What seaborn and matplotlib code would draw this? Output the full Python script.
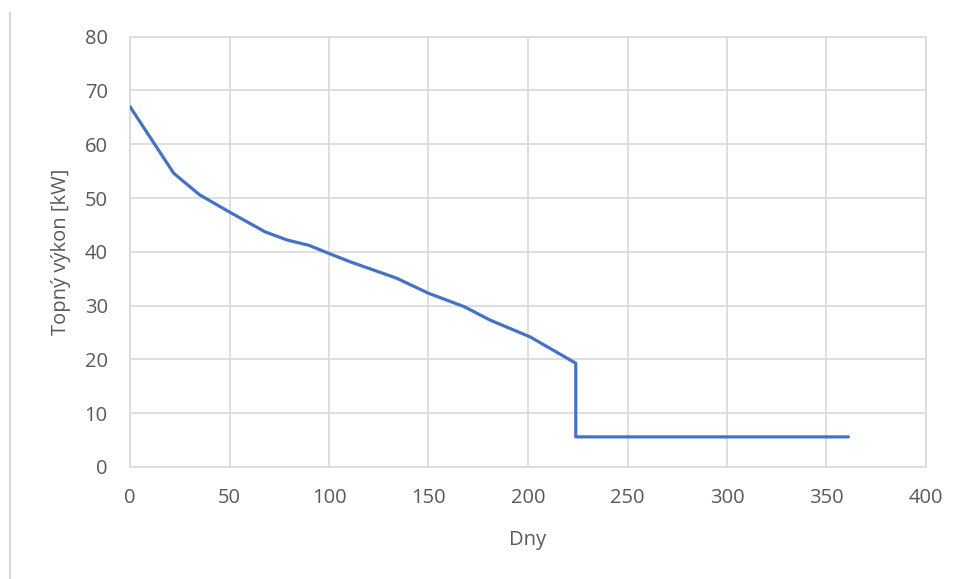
import matplotlib
matplotlib.use("Agg")
import matplotlib.pyplot as plt
from matplotlib.lines import Line2D
import seaborn as sns
import pandas as pd

# Heating load duration curve
days = [0, 22, 35, 50, 68, 79, 90, 100, 111, 134, 150, 168, 181, 201, 224, 224, 361]
power_kw = [67.0, 54.6, 50.6, 47.4, 43.7, 42.2, 41.2, 39.7, 38.1, 35.1, 32.3, 29.8, 27.3, 24.2, 19.3, 5.6, 5.6]

x_ticks = [0, 50, 100, 150, 200, 250, 300, 350, 400]
y_ticks = [0, 10, 20, 30, 40, 50, 60, 70, 80]

df = pd.DataFrame({"Dny": days, "Topný výkon [kW]": power_kw})

sns.set_theme(style="white")
plt.rcParams["font.family"] = ["Open Sans", "DejaVu Sans"]

text_color = "#595959"
grid_color = "#d9d9d9"
fs = 14.5

fig = plt.figure(figsize=(9.59, 5.79), dpi=100)
ax = fig.add_axes([130 / 959, 1 - 467 / 579, 796 / 959, (467 - 36.7) / 579])

sns.lineplot(data=df, x="Dny", y="Topný výkon [kW]", estimator=None, sort=False,
             color="#4472C4", linewidth=2.3, ax=ax, zorder=3)

ax.set_xlim(0, 400)
ax.set_ylim(0, 80)
ax.set_xticks(x_ticks)
ax.set_yticks(y_ticks)
ax.grid(True, color=grid_color, linewidth=1.2)
for s in ax.spines.values():
    s.set_color(grid_color)
    s.set_linewidth(1.2)
ax.tick_params(axis="x", length=0, labelsize=fs, colors=text_color, pad=15)
ax.tick_params(axis="y", length=0, labelsize=fs, colors=text_color, pad=16)
ax.set_xlabel("Dny", fontsize=fs, color=text_color, labelpad=16)
ax.set_ylabel("Topný výkon [kW]", fontsize=fs, color=text_color, labelpad=10)

# thin frame line at the left edge of the chart area
fig.add_artist(Line2D([10 / 959, 10 / 959], [0, 1 - 12 / 579],
                      transform=fig.transFigure, color="#d0d0d0", linewidth=1.2))

fig.savefig("out.png", dpi=100, facecolor="white")
